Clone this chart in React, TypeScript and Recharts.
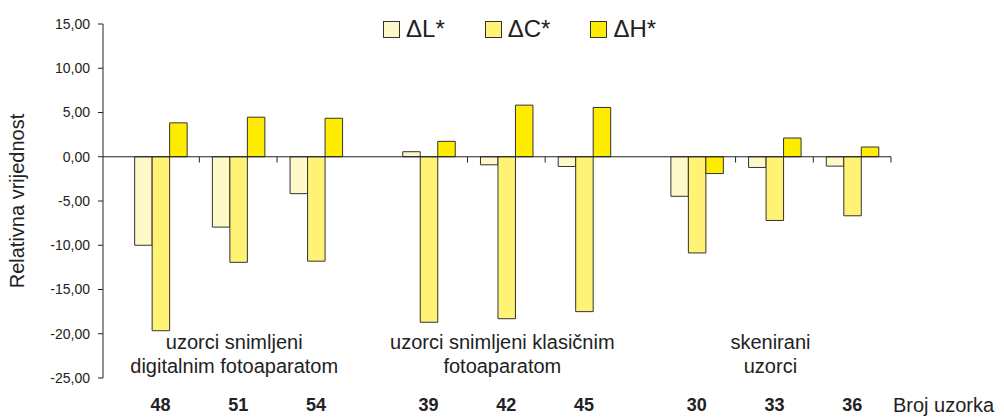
import { Bar, BarChart, Legend, ReferenceDot, ReferenceLine, XAxis, YAxis } from 'recharts';

const FONT = '"Liberation Sans", Arial, Helvetica, sans-serif';
const INK = '#222';

// sample numbers, in the order they appear on the x axis
const samples = ['48', '51', '54', '39', '42', '45', '30', '33', '36'];
const groupOf = [0, 0, 0, 1, 1, 1, 2, 2, 2];
const groupLabels = [
    ['uzorci snimljeni', 'digitalnim fotoaparatom'],
    ['uzorci snimljeni klasičnim', 'fotoaparatom'],
    ['skenirani', 'uzorci'],
];

const deltaL = [-10.0, -7.95, -4.17, 0.57, -0.91, -1.1, -4.47, -1.21, -1.06];
const deltaC = [-19.66, -11.93, -11.8, -18.7, -18.3, -17.5, -10.87, -7.2, -6.67];
const deltaH = [3.83, 4.47, 4.35, 1.74, 5.83, 5.57, -1.9, 2.12, 1.1];

const seriesNames = ['ΔL*', 'ΔC*', 'ΔH*'];
const seriesKeys = ['dL', 'dC', 'dH'];
const seriesColors = ['#FFF8C8', '#FFF275', '#FFED00'];

const yTicks = [15, 10, 5, 0, -5, -10, -15, -20, -25];

// extra space between the three sample groups, in category widths
const GROUP_GAP = 0.45;

const data = samples.map((s, i) => ({
    sample: s,
    pos: i + groupOf[i] * GROUP_GAP,
    dL: deltaL[i],
    dC: deltaC[i],
    dH: deltaH[i],
}));

const last = data.length - 1;
const xDomain = [-0.74, data[last].pos + 0.5];

// small tick marks on the zero line, between samples of the same group and at the end
const zeroTicks = data
    .filter((d, i) => i === last || groupOf[i + 1] === groupOf[i])
    .map(d => d.pos + 0.5);

const groupCenters = groupLabels.map((_, g) => {
    const ps = data.filter((_, i) => groupOf[i] === g).map(d => d.pos);
    return ps.reduce((a, b) => a + b, 0) / ps.length;
});

const fmt = (v: number) => v.toFixed(2).replace('.', ',');

const LegendContent = () => (
    <div style={{ display: 'flex', alignItems: 'center', fontFamily: FONT, color: INK }}>
        {seriesNames.map((name, i) => (
            <div key={name} style={{ display: 'flex', alignItems: 'center', marginRight: 40 }}>
                <span style={{ width: 15, height: 15, background: seriesColors[i], border: '1px solid #333', marginRight: 6, display: 'inline-block' }} />
                <span style={{ fontSize: 24, lineHeight: '24px' }}>{name}</span>
            </div>
        ))}
    </div>
);

const groupLabel = (lines: string[]) => (props: any) => {
    const { x, y } = props.viewBox;
    return (
        <text x={x - 4} y={y} textAnchor="middle" fontFamily={FONT} fontSize={20} fill={INK}>
            <tspan x={x - 4} dy={6}>{lines[0]}</tspan>
            <tspan x={x - 4} dy={24}>{lines[1]}</tspan>
        </text>
    );
};

const yTitle = (props: any) => {
    const { y, height } = props.viewBox;
    const cy = y + height / 2;
    return (
        <text x={17} y={cy} transform={`rotate(-90, 17, ${cy})`} textAnchor="middle" dominantBaseline="central" fontFamily={FONT} fontSize={20} fill={INK}>
            Relativna vrijednost
        </text>
    );
};

const xTitle = (props: any) => {
    const { x, width } = props.viewBox;
    return (
        <text x={x + width + 2} y={412} fontFamily={FONT} fontSize={20} fill={INK}>
            Broj uzorka
        </text>
    );
};

const App = () => {
    return (
        <div style={{ position: 'absolute', left: 0, top: 0, background: '#fff' }}>
            <BarChart width={1004} height={417} data={data} barGap={0} margin={{ top: 24, right: 113, bottom: 9, left: 0 }}>
                <XAxis
                    dataKey="pos"
                    type="number"
                    domain={xDomain}
                    allowDataOverflow
                    ticks={data.map(d => d.pos)}
                    interval={0}
                    tickFormatter={(v: number) => data.find(d => Math.abs(d.pos - v) < 1e-6)?.sample ?? ''}
                    axisLine={false}
                    tickLine={false}
                    tickSize={0}
                    tickMargin={20}
                    height={30}
                    tick={{ fontSize: 18, fontWeight: 'bold', fill: INK, fontFamily: FONT }}
                    label={{ content: xTitle }}
                />
                <YAxis
                    type="number"
                    domain={[-25, 15]}
                    ticks={yTicks}
                    interval={0}
                    tickFormatter={fmt}
                    width={103}
                    tickSize={5}
                    tickMargin={8}
                    axisLine={{ stroke: INK }}
                    tickLine={{ stroke: INK }}
                    tick={{ fontSize: 14, fill: INK, fontFamily: FONT }}
                    label={{ content: yTitle }}
                />
                <Legend
                    layout="horizontal"
                    verticalAlign="middle"
                    align="center"
                    content={LegendContent}
                    wrapperStyle={{ left: 383, top: 17, width: 'auto' }}
                />
                {seriesKeys.map((k, i) => (
                    <Bar key={k} dataKey={k} name={seriesNames[i]} fill={seriesColors[i]} stroke="#333" strokeWidth={1} barSize={17.5} isAnimationActive={false} />
                ))}
                <ReferenceLine y={0} stroke={INK} strokeWidth={1} />
                {zeroTicks.map(t => (
                    <ReferenceLine key={t} segment={[{ x: t, y: 0 }, { x: t, y: -0.65 }]} stroke={INK} strokeWidth={1} />
                ))}
                {groupLabels.map((lines, g) => (
                    <ReferenceDot key={g} x={groupCenters[g]} y={-21} r={0} fill="none" stroke="none" label={{ content: groupLabel(lines) }} />
                ))}
            </BarChart>
        </div>
    );
};

export default App;
